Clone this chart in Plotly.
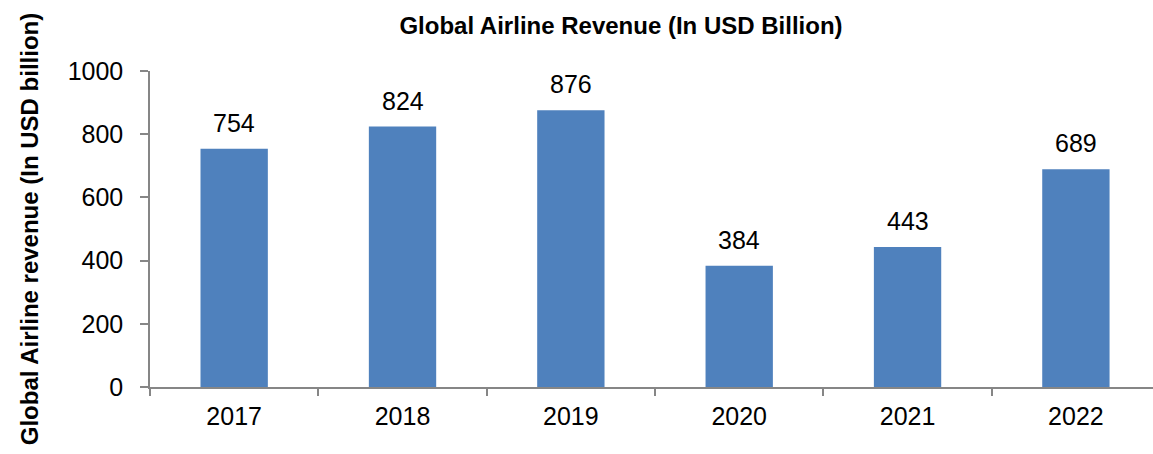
import plotly.graph_objects as go

years = ["2017", "2018", "2019", "2020", "2021", "2022"]
revenue = [754, 824, 876, 384, 443, 689]
y_ticks = [0, 200, 400, 600, 800, 1000]

bar_color = "#4F81BD"
axis_color = "#868686"
font_family = "Liberation Sans, Arial, sans-serif"

fig = go.Figure(
    go.Bar(
        x=years,
        y=revenue,
        width=0.4,
        marker=dict(color=bar_color, line=dict(width=0)),
        hoverinfo="skip",
    )
)

# value labels above each bar (category axis -> serial index positions)
for i, v in enumerate(revenue):
    fig.add_annotation(
        x=i, y=v, text=str(v), showarrow=False,
        yanchor="bottom", yshift=10,
        font=dict(family=font_family, size=25, color="#000000"),
    )

fig.update_layout(
    width=1153, height=454,
    margin=dict(l=150, r=0, t=71, b=67),
    paper_bgcolor="white", plot_bgcolor="white",
    showlegend=False,
    title=dict(
        text="<b>Global Airline Revenue (In USD Billion)</b>",
        x=621 / 1153, xanchor="center", y=1 - 26 / 454, yanchor="middle",
        font=dict(family=font_family, size=24, color="#000000"),
    ),
    font=dict(family=font_family, color="#000000"),
)

fig.update_xaxes(
    type="category",
    range=[-0.5, 5.458],
    tickson="boundaries",
    ticks="outside", ticklen=7, tickcolor=axis_color, tickwidth=1.5,
    showline=True, linecolor=axis_color, linewidth=1.5,
    showgrid=False, zeroline=False,
    tickfont=dict(family=font_family, size=25, color="#000000"),
    ticklabelstandoff=6,
    fixedrange=True,
)

fig.update_yaxes(
    range=[0, 1000],
    tickmode="array",
    tickvals=y_ticks,
    ticks="outside", ticklen=8, tickcolor=axis_color, tickwidth=1.5,
    showline=True, linecolor=axis_color, linewidth=1.5,
    showgrid=False, zeroline=False,
    tickfont=dict(family=font_family, size=25, color="#000000"),
    ticklabelstandoff=12,
    title=dict(
        text="<b>Global Airline revenue (In USD billion)</b>",
        font=dict(family=font_family, size=24, color="#000000"),
        standoff=22,
    ),
    fixedrange=True,
)

fig.write_html("out.html", config={"displayModeBar": False})
